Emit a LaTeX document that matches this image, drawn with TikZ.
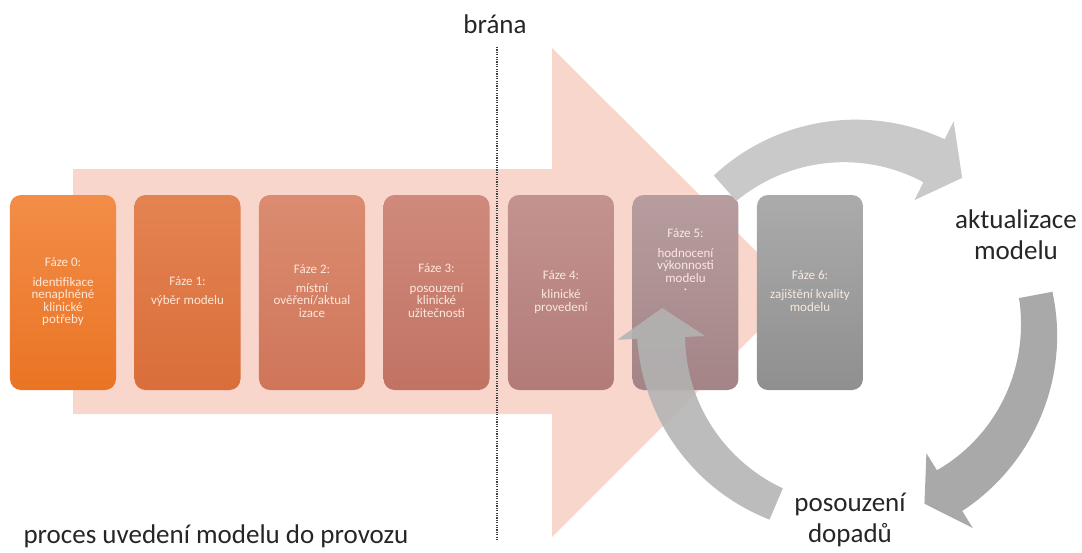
\documentclass[tikz,border=0pt]{standalone}
\usepackage{fontspec}
\setmainfont{Carlito}
\usepackage{xcolor}
\usepackage{tikz}
\usetikzlibrary{matrix}

\definecolor{arrowpink}{HTML}{F8D6CC}
\definecolor{ringlight}{HTML}{C9C9C9}
\definecolor{ringmid}{HTML}{B3B3B3}
\definecolor{ringdark}{HTML}{A9A9A9}

\newcommand{\phasetext}[1]{\begin{tabular}{@{}c@{}}#1\end{tabular}}
\newcommand{\cyclearrow}[4]{%
  \fill[#4] plot[domain=#1:#2, samples=40, variable=\t]
      ({850+(206+7*(\t-(#1))/((#2)-(#1)))*cos(\t)}, {330+(206+7*(\t-(#1))/((#2)-(#1)))*sin(\t)})
    -- ({850+233*cos(#2)}, {330+233*sin(#2)})
    -- ({850+189*cos(#3)}, {330+189*sin(#3)})
    -- ({850+145*cos(#2)}, {330+145*sin(#2)})
    -- plot[domain=#2:#1, samples=40, variable=\t]
      ({850+(172-7*(\t-(#1))/((#2)-(#1)))*cos(\t)}, {330+(172-7*(\t-(#1))/((#2)-(#1)))*sin(\t)})
    -- cycle;}

\tikzset{
  phase/.style={rounded corners=11pt, minimum width=106pt, minimum height=195pt,
    inner sep=2pt, text={rgb,255:red,255;green,240;blue,230}, text opacity=0.92,
    font=\fontsize{13}{11.7}\selectfont},
  bigtext/.style={font=\fontsize{27}{31}\selectfont, text=black!85, align=center},
  gateline/.style={line width=1.6pt, dash pattern=on 1.2pt off 1.2pt, black!75}
}

\begin{document}
\begin{tikzpicture}[x=1pt,y=-1pt]
  \useasboundingbox (0,0) rectangle (1082,552);
  \fill[arrowpink] (73,169) -- (552,169) -- (552,48) -- (797,292) -- (552,537) -- (552,414) -- (73,414) -- cycle;

  \matrix (m) [matrix of nodes, column sep=18.5pt, nodes={phase}, inner sep=0pt] at (436.5,292.5) {
  |[top color={rgb,255:red,242;green,141;blue,72}, bottom color={rgb,255:red,234;green,116;blue,36}]|
    \phasetext{Fáze 0:\\[7pt]identifikace\\nenaplněné\\klinické\\potřeby} &
  |[top color={rgb,255:red,228;green,131;blue,82}, bottom color={rgb,255:red,217;green,110;blue,58}]|
    \phasetext{Fáze 1:\\[7pt]výběr modelu} &
  |[top color={rgb,255:red,219;green,140;blue,112}, bottom color={rgb,255:red,207;green,117;blue,90}]|
    \phasetext{Fáze 2:\\[7pt]místní\\ověření/aktual\\izace} &
  |[top color={rgb,255:red,207;green,138;blue,124}, bottom color={rgb,255:red,193;green,115;blue,99}]|
    \phasetext{Fáze 3:\\[7pt]posouzení\\klinické\\užitečnosti} &
  |[top color={rgb,255:red,195;green,147;blue,144}, bottom color={rgb,255:red,178;green,123;blue,120}]|
    \phasetext{Fáze 4:\\[7pt]klinické\\provedení} &
  |[top color={rgb,255:red,183;green,157;blue,159}, bottom color={rgb,255:red,164;green,132;blue,134}]|
    \phasetext{Fáze 5:\\[7pt]hodnocení\\výkonnosti\\modelu\\·\\[47pt]~} &
  |[top color={rgb,255:red,171;green,171;blue,171}, bottom color={rgb,255:red,143;green,143;blue,143}]|
    \phasetext{Fáze 6:\\[7pt]zajištění kvality\\modelu} \\
  };

  \cyclearrow{-131.4}{-63.6}{-53.6}{ringlight}
  \cyclearrow{-10.7}{58.2}{66.8}{ringdark}
  \cyclearrow{113}{177.6}{186.7}{ringmid, fill opacity=0.88}

  \coordinate (gtop) at (497,47);
  \coordinate (gbot) at (497,540);
  \draw[gateline] (gtop) -- (gbot);

  \node[bigtext] (gate) at (495,24) {brána};
  \node[bigtext, anchor=west] (process) at (20,536) {proces uvedení modelu do provozu};
  \node[bigtext] (update) at (1016,235) {aktualizace\\modelu};
  \node[bigtext] (impact) at (850,520) {posouzení\\dopadů};
\end{tikzpicture}
\end{document}
